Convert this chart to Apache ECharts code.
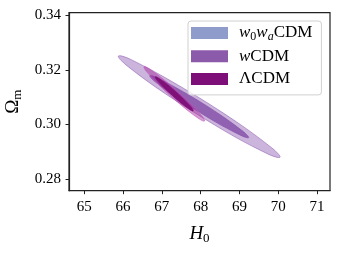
<!DOCTYPE html>
<html><head><meta charset="utf-8">
<script src="https://cdn.jsdelivr.net/npm/echarts@6/dist/echarts.min.js"></script>
<style>html,body{margin:0;padding:0;background:#fff}#c{width:340px;height:253px}</style>
</head><body><div id="c"></div>
<script>
// Tick values
const xTicks = [65, 66, 67, 68, 69, 70, 71];
const yTicks = [0.28, 0.30, 0.32, 0.34];
// Legend names
const models = ['w0waCDM', 'wCDM', 'LCDM'];
// Contour vertices [H0, Omega_m]
const wcdm2sig = [[70.048,0.2880],[69.950,0.2880],[69.717,0.2893],[68.916,0.2952],[67.860,0.3042],[66.831,0.3138],[66.106,0.3215],[65.923,0.3239],[65.878,0.3251],[65.976,0.3251],[66.209,0.3238],[67.009,0.3178],[68.066,0.3089],[69.094,0.2993],[69.820,0.2916],[70.003,0.2892]];
const wcdm1sig = [[69.239,0.2952],[69.179,0.2952],[69.036,0.2960],[68.546,0.2996],[67.900,0.3051],[67.270,0.3110],[66.826,0.3157],[66.715,0.3172],[66.687,0.3179],[66.747,0.3179],[66.890,0.3171],[67.379,0.3134],[68.026,0.3080],[68.655,0.3021],[69.100,0.2974],[69.211,0.2959]];
const lcdm2sig = [[68.100,0.30128],[68.055,0.30134],[67.961,0.30207],[67.650,0.30532],[67.251,0.31015],[66.870,0.31528],[66.609,0.31933],[66.548,0.32059],[66.539,0.32121],[66.584,0.32115],[66.678,0.32042],[66.989,0.31717],[67.388,0.31234],[67.769,0.30721],[68.030,0.30317],[68.091,0.30191]];
const lcdm1sig = [[67.807,0.30502],[67.779,0.30506],[67.720,0.30551],[67.526,0.30754],[67.277,0.31056],[67.039,0.31377],[66.875,0.31630],[66.837,0.31709],[66.832,0.31748],[66.860,0.31744],[66.919,0.31698],[67.113,0.31495],[67.362,0.31193],[67.600,0.30873],[67.764,0.30620],[67.802,0.30541]];
const w0waPts = [];

const FONT = '"Liberation Serif", "DejaVu Serif", serif';
function contour(name, pts, fill, stroke, z) {
  return {
    type: 'custom', name: name, data: pts, z: z,
    itemStyle: { color: fill },
    renderItem: function (params, api) {
      if (params.dataIndex !== 0) return null;
      const p = pts.map(function (d) { return api.coord(d); });
      return { type: 'polygon', shape: { points: p, smooth: 0.35 },
        style: { fill: fill, stroke: stroke, lineWidth: 0.8 } };
    }
  };
}
const chart = echarts.init(document.getElementById('c'), null, { renderer: 'canvas' });
const subRich = {
  i: { fontFamily: FONT, fontStyle: 'italic', fontSize: 17, color: '#000' },
  r: { fontFamily: FONT, fontSize: 17, color: '#000' },
  s: { fontFamily: FONT, fontSize: 12, color: '#000', padding: [7, 0, 0, 0] },
  si: { fontFamily: FONT, fontStyle: 'italic', fontSize: 12, color: '#000', padding: [7, 0, 0, 0] }
};
chart.setOption({
  animation: false,
  backgroundColor: '#fff',
  grid: { left: 69, right: 10, top: 12.7, bottom: 62.3, show: true, borderColor: '#222', borderWidth: 1.2, backgroundColor: 'transparent', containLabel: false, outerBoundsMode: 'none' },
  legend: {
    left: 188, top: 21,
    orient: 'vertical',
    data: [
      { name: models[0], itemStyle: { color: '#8e9bcb' } },
      { name: models[1], itemStyle: { color: '#8b5aaa' } },
      { name: models[2], itemStyle: { color: '#7e0f79' } }
    ],
    icon: 'rect', itemWidth: 37, itemHeight: 12, itemGap: 4.7,
    padding: [3, 9, 7, 3],
    backgroundColor: 'rgba(255,255,255,0.8)', borderColor: '#d0d0d0', borderWidth: 1, borderRadius: 3,
    selectedMode: false,
    formatter: function (n) {
      if (n === 'w0waCDM') return '{i|w}{s|0}{i|w}{si|a}{r|CDM}';
      if (n === 'wCDM') return '{i|w}{r|CDM}';
      return '{r|ΛCDM}';
    },
    textStyle: { fontFamily: FONT, fontSize: 17, lineHeight: 18, padding: [0, 0, 0, 6], rich: subRich }
  },
  xAxis: {
    type: 'value', min: 64.605, max: 71.336,
    name: '{i|H}{s|0}', nameLocation: 'middle', nameGap: 33,
    nameTextStyle: { rich: { i: { fontFamily: FONT, fontStyle: 'italic', fontSize: 19, color: '#000' }, s: { fontFamily: FONT, fontSize: 13, color: '#000', padding: [8, 0, 0, 0] } } },
    splitLine: { show: false },
    axisLine: { show: true, lineStyle: { color: '#222', width: 1.2 } },
    axisTick: { show: true, inside: false, length: 3.5, lineStyle: { color: '#222', width: 1 }, customValues: xTicks },
    axisLabel: { customValues: xTicks, fontFamily: FONT, fontSize: 15, color: '#000', margin: 9, formatter: function (v) { return String(v); } }
  },
  yAxis: {
    type: 'value', min: 0.2757, max: 0.34103,
    name: '{r|Ω}{s|m}', nameLocation: 'middle', nameGap: 44, nameRotate: 90,
    nameTextStyle: { rich: { r: { fontFamily: FONT, fontSize: 19, color: '#000' }, s: { fontFamily: FONT, fontSize: 13, color: '#000', padding: [8, 0, 0, 0] } } },
    splitLine: { show: false },
    axisLine: { show: true, lineStyle: { color: '#222', width: 1.2 } },
    axisTick: { show: true, inside: false, length: 3.5, lineStyle: { color: '#222', width: 1 }, customValues: yTicks },
    axisLabel: { customValues: yTicks, fontFamily: FONT, fontSize: 15, color: '#000', margin: 8, formatter: function (v) { return v.toFixed(2); } }
  },
  series: [
    contour(models[0], w0waPts, '#8e9bcb', '#8e9bcb', 1),
    contour(models[1], wcdm2sig, 'rgba(141,92,178,0.45)', 'rgba(141,92,178,0.7)', 2),
    contour(models[1], wcdm1sig, 'rgba(134,82,170,0.85)', 'rgba(134,82,170,0.9)', 3),
    contour(models[2], lcdm2sig, 'rgba(160,35,150,0.45)', 'rgba(200,90,190,0.8)', 4),
    contour(models[2], lcdm1sig, 'rgba(125,15,118,0.95)', 'rgba(125,15,118,1)', 5)
  ]
});
</script></body></html>
